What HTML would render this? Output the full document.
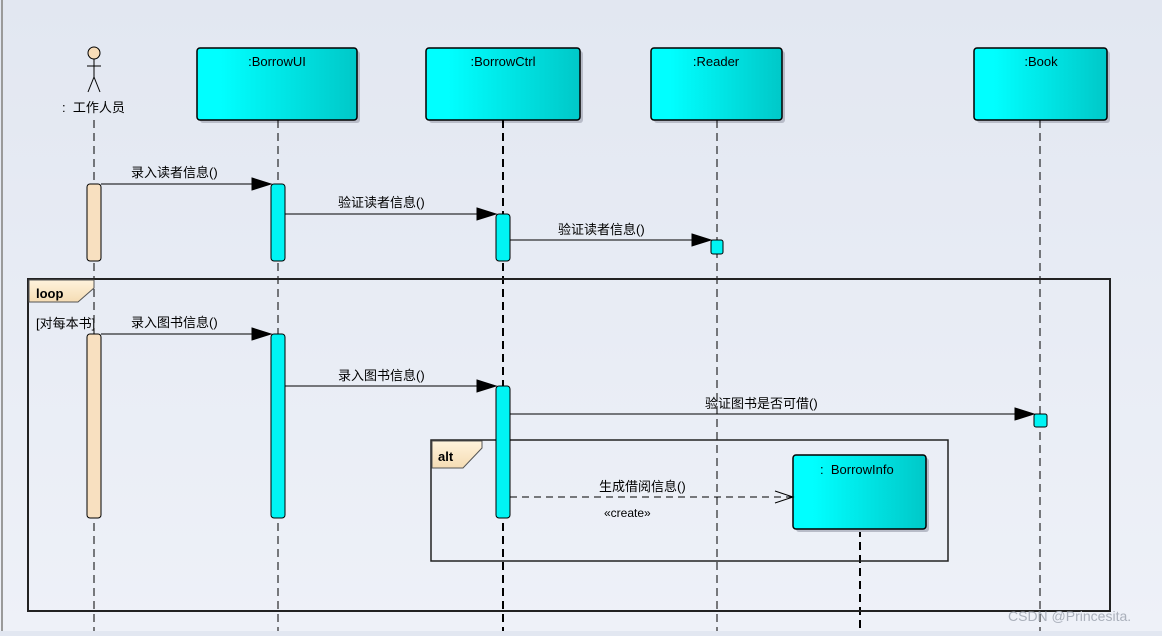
<!DOCTYPE html>
<html><head><meta charset="utf-8"><style>
html,body{margin:0;padding:0}
body{width:1162px;height:631px;overflow:hidden;background:linear-gradient(#e2e7f1,#eef1f8)}
text{font-family:"Liberation Sans","Noto Sans CJK SC",sans-serif;font-size:13px;fill:#000}
</style></head><body>
<svg width="1162" height="631" xmlns="http://www.w3.org/2000/svg">
<defs>
<linearGradient id="c" x1="0" x2="1"><stop offset="0.15" stop-color="#00ffff"/><stop offset="1" stop-color="#00c8c8"/></linearGradient>
<linearGradient id="t" x1="0" x2="0" y1="0" y2="1"><stop offset="0" stop-color="#fff3dc"/><stop offset="1" stop-color="#f5dcb4"/></linearGradient>
</defs>
<line x1="2" y1="0" x2="2" y2="631" stroke="#9a9a9a" stroke-width="2"/>
<!-- actor -->
<circle cx="94" cy="53" r="6" fill="#f8ddb8" stroke="#000"/>
<line x1="94" y1="59" x2="94" y2="77" stroke="#000"/>
<line x1="87" y1="66" x2="101" y2="66" stroke="#000"/>
<line x1="94" y1="77" x2="88" y2="92" stroke="#000"/>
<line x1="94" y1="77" x2="100" y2="92" stroke="#000"/>
<text x="62" y="112">:&#160; 工作人员</text>
<!-- boxes -->
<g stroke="#000" stroke-width="1.5">
<rect x="200" y="51" width="160" height="72" rx="3" fill="#b8bcc8" stroke="none"/>
<rect x="197" y="48" width="160" height="72" rx="3" fill="url(#c)"/>
<rect x="429" y="51" width="154" height="72" rx="3" fill="#b8bcc8" stroke="none"/>
<rect x="426" y="48" width="154" height="72" rx="3" fill="url(#c)"/>
<rect x="654" y="51" width="131" height="72" rx="3" fill="#b8bcc8" stroke="none"/>
<rect x="651" y="48" width="131" height="72" rx="3" fill="url(#c)"/>
<rect x="977" y="51" width="133" height="72" rx="3" fill="#b8bcc8" stroke="none"/>
<rect x="974" y="48" width="133" height="72" rx="3" fill="url(#c)"/>
</g>
<text x="277" y="66" text-anchor="middle">:BorrowUI</text>
<text x="503" y="66" text-anchor="middle">:BorrowCtrl</text>
<text x="716" y="66" text-anchor="middle">:Reader</text>
<text x="1041" y="66" text-anchor="middle">:Book</text>
<!-- lifelines -->
<g stroke="#000" stroke-dasharray="8,5">
<line x1="94" y1="120" x2="94" y2="631"/>
<line x1="278" y1="120" x2="278" y2="631"/>
<line x1="503" y1="120" x2="503" y2="631" stroke-width="2"/>
<line x1="717" y1="120" x2="717" y2="631"/>
<line x1="1040" y1="120" x2="1040" y2="631"/>
<line x1="860" y1="529" x2="860" y2="631" stroke-width="2"/>
</g>
<!-- frames -->
<rect x="28" y="279" width="1082" height="332" fill="none" stroke="#222" stroke-width="2"/>
<path d="M29 280 H94 V288 L78 302 H29 Z" fill="url(#t)" stroke="#555"/>
<text x="36" y="298" font-weight="bold" style="font-weight:bold">loop</text>
<text x="36" y="328">[对每本书]</text>
<rect x="431" y="440" width="517" height="121" fill="none" stroke="#222" stroke-width="1.5"/>
<path d="M432 441 H482 V448 L463 468 H432 Z" fill="url(#t)" stroke="#555"/>
<text x="438" y="461" style="font-weight:bold">alt</text>
<!-- activations -->
<g stroke="#000">
<rect x="87" y="184" width="14" height="77" rx="3" fill="#f8e0c0"/>
<rect x="87" y="334" width="14" height="184" rx="3" fill="#f8e0c0"/>
<rect x="271" y="184" width="14" height="77" rx="3" fill="#00f4f4"/>
<rect x="271" y="334" width="14" height="184" rx="3" fill="#00f4f4"/>
<rect x="496" y="214" width="14" height="47" rx="3" fill="#00f4f4"/>
<rect x="496" y="386" width="14" height="132" rx="3" fill="#00f4f4"/>
<rect x="711" y="240" width="12" height="14" rx="2" fill="#00f4f4"/>
<rect x="1034" y="414" width="13" height="13" rx="2" fill="#00f4f4"/>
</g>
<!-- BorrowInfo -->
<rect x="796" y="458" width="133" height="74" rx="3" fill="#b8bcc8"/>
<rect x="793" y="455" width="133" height="74" rx="3" fill="url(#c)" stroke="#000" stroke-width="1.5"/>
<text x="820" y="474">:&#160; BorrowInfo</text>
<!-- messages -->
<g stroke="#000" fill="#000">
<line x1="101" y1="184" x2="253" y2="184"/><path d="M252 178 L271 184 L252 190 Z"/>
<line x1="285" y1="214" x2="478" y2="214"/><path d="M477 208 L496 214 L477 220 Z"/>
<line x1="510" y1="240" x2="693" y2="240"/><path d="M692 234 L711 240 L692 246 Z"/>
<line x1="101" y1="334" x2="253" y2="334"/><path d="M252 328 L271 334 L252 340 Z"/>
<line x1="285" y1="386" x2="478" y2="386"/><path d="M477 380 L496 386 L477 392 Z"/>
<line x1="510" y1="414" x2="1016" y2="414"/><path d="M1015 408 L1034 414 L1015 420 Z"/>
<line x1="510" y1="497" x2="792" y2="497" stroke-dasharray="7,5"/>
<path d="M775 491 L793 497 L775 503" fill="none"/>
</g>
<text x="131" y="177">录入读者信息()</text>
<text x="338" y="207">验证读者信息()</text>
<text x="558" y="234">验证读者信息()</text>
<text x="131" y="327">录入图书信息()</text>
<text x="338" y="380">录入图书信息()</text>
<text x="705" y="408">验证图书是否可借()</text>
<text x="599" y="491">生成借阅信息()</text>
<text x="604" y="517" style="font-size:12px">«create»</text>
<text x="1008" y="621" style="fill:#aab0bb;font-size:14px">CSDN @Princesita.</text>
</svg>
</body></html>
